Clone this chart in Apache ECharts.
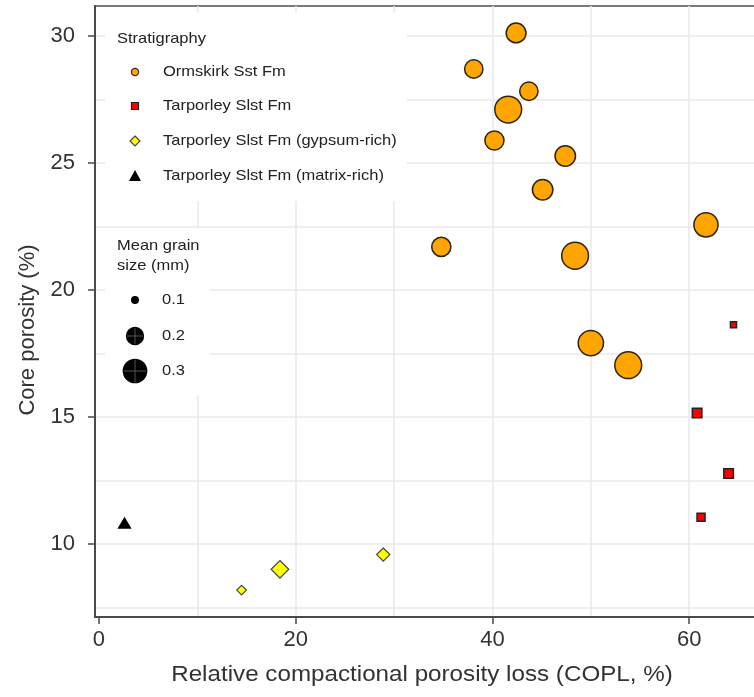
<!DOCTYPE html>
<html>
<head>
<meta charset="utf-8">
<script src="https://cdn.jsdelivr.net/npm/echarts@6/dist/echarts.min.js"></script>
<style>
  html, body { margin: 0; padding: 0; background: #ffffff; }
  #chart { width: 754px; height: 697px; }
</style>
</head>
<body>
<div id="chart"></div>
<script>
// Axis tick labels
const xTicks = [0, 20, 40, 60];
const yTicks = [10, 15, 20, 25, 30];
// Reference grid lines
const xGridValues = [10, 20, 30, 40, 50, 60];
const yGridValues = [7.5, 10, 12.5, 15, 17.5, 20, 22.5, 25, 27.5, 30];

// Ormskirk Sandstone Formation: COPL (%), core porosity (%), mean grain size (mm)
const ormskirkCopl     = [42.4, 38.1, 43.7, 41.6, 40.2, 47.4, 45.1, 34.8, 48.4, 61.7, 50.0, 53.8];
const ormskirkPorosity = [30.13, 28.71, 27.83, 27.11, 25.89, 25.28, 23.95, 21.70, 21.35, 22.57, 17.91, 17.04];
const ormskirkGrain    = [0.22, 0.20, 0.20, 0.34, 0.21, 0.23, 0.23, 0.21, 0.34, 0.29, 0.31, 0.34];

// Tarporley Siltstone Formation
const tarporleyCopl     = [64.5, 60.8, 64.0, 61.2];
const tarporleyPorosity = [18.63, 15.16, 12.77, 11.05];
const tarporleyGrain    = [0.09, 0.11, 0.11, 0.10];

// Tarporley Siltstone Formation, gypsum-rich
const gypsumCopl     = [14.5, 18.4, 28.9];
const gypsumPorosity = [8.18, 9.00, 9.58];
const gypsumGrain    = [0.11, 0.19, 0.14];

// Tarporley Siltstone Formation, matrix-rich
const matrixCopl     = [2.6];
const matrixPorosity = [10.83];
const matrixGrain    = [0.15];

// Grain-size key
const sizeKeyValues = [0.1, 0.2, 0.3];
const sizeKeyLabels = ['0.1', '0.2', '0.3'];

const FONT = '"Liberation Sans", Arial, Helvetica, sans-serif';
const X_MIN = -0.4, X_MAX = 67.6;
const Y_MIN = 7.12, Y_MAX = 31.19;
const TEXT_STRETCH = 1.1;

// symbol area grows linearly with grain size
function grainToSize(g) {
  return Math.sqrt(Math.max(4, 2730 * g - 209));
}

function zip(xs, ys, gs) {
  return xs.map((x, i) => [x, ys[i], gs[i]]);
}

const chart = echarts.init(document.getElementById('chart'), null, { renderer: 'canvas' });

const gridLine = { show: true, lineStyle: { color: '#e8e8e8', width: 1.5 } };

// Legend blocks
const legendX = 135, legendTextX = 163;
const stratItems = [
  { label: 'Ormskirk Sst Fm', y: 72 },
  { label: 'Tarporley Slst Fm', y: 106 },
  { label: 'Tarporley Slst Fm (gypsum-rich)', y: 141 },
  { label: 'Tarporley Slst Fm (matrix-rich)', y: 176 }
];
const txt = (text, x, y, size) => ({
  type: 'text', z: 12, x, y, scaleX: TEXT_STRETCH,
  style: { text, x: 0, y: 0, fill: '#222', font: size + 'px ' + FONT, verticalAlign: 'middle', align: 'left' }
});

const graphics = [];
graphics.push({ type: 'rect', z: 10, shape: { x: 105, y: 13, width: 302, height: 188 }, style: { fill: '#ffffff' } });
graphics.push(txt('Stratigraphy', 117, 39, 15));
stratItems.forEach(it => graphics.push(txt(it.label, legendTextX, it.y, 15)));
graphics.push({ type: 'circle', z: 12, shape: { cx: legendX, cy: stratItems[0].y, r: 3.6 },
  style: { fill: '#FFA500', stroke: '#3a2a10', lineWidth: 1.2 } });
graphics.push({ type: 'rect', z: 12, shape: { x: legendX - 3.5, y: stratItems[1].y - 3.5, width: 7, height: 7 },
  style: { fill: '#FF0000', stroke: '#222', lineWidth: 1.2 } });
graphics.push({ type: 'polygon', z: 12, shape: { points: [[legendX, stratItems[2].y - 5], [legendX + 5, stratItems[2].y], [legendX, stratItems[2].y + 5], [legendX - 5, stratItems[2].y]] },
  style: { fill: '#FFFF00', stroke: '#444', lineWidth: 1.2 } });
graphics.push({ type: 'polygon', z: 12, shape: { points: [[legendX, stratItems[3].y - 6], [legendX + 6, stratItems[3].y + 5], [legendX - 6, stratItems[3].y + 5]] },
  style: { fill: '#000000' } });

graphics.push({ type: 'rect', z: 10, shape: { x: 105, y: 229, width: 105, height: 166 }, style: { fill: '#ffffff' } });
graphics.push(txt('Mean grain', 117, 246, 15));
graphics.push(txt('size (mm)', 117, 266, 15));
const sizeKeyY = [300, 336, 371];
sizeKeyValues.forEach((g, i) => {
  const r = grainToSize(g) / 2;
  const cy = sizeKeyY[i];
  graphics.push({ type: 'circle', z: 12, shape: { cx: legendX, cy, r }, style: { fill: '#000000' } });
  if (i > 0) {
    graphics.push({ type: 'line', z: 13, shape: { x1: legendX - r + 1, y1: cy, x2: legendX + r - 1, y2: cy }, style: { stroke: '#555', lineWidth: 1 } });
    graphics.push({ type: 'line', z: 13, shape: { x1: legendX, y1: cy - r + 1, x2: legendX, y2: cy + r - 1 }, style: { stroke: '#555', lineWidth: 1 } });
  }
  graphics.push(txt(sizeKeyLabels[i], 162, cy, 15));
});

// Axis titles
graphics.push({ type: 'text', z: 12, x: 422, y: 675, scaleX: TEXT_STRETCH,
  style: { text: 'Relative compactional porosity loss (COPL, %)', x: 0, y: 0, fill: '#333', font: '22px ' + FONT, align: 'center', verticalAlign: 'middle' } });
graphics.push({ type: 'text', z: 12, x: 28, y: 330, rotation: Math.PI / 2,
  style: { text: 'Core porosity (%)', x: 0, y: 0, fill: '#333', font: '22px ' + FONT, align: 'center', verticalAlign: 'middle' } });

const option = {
  animation: false,
  backgroundColor: '#ffffff',
  grid: {
    left: 95, top: 6, width: 669, height: 611, outerBoundsMode: 'none', containLabel: false,
    show: true, borderColor: '#7a7a7a', borderWidth: 2, backgroundColor: '#ffffff'
  },
  xAxis: [
    {
      type: 'value', min: X_MIN, max: X_MAX, position: 'bottom',
      axisLine: { show: true, onZero: false, lineStyle: { color: '#4a4a4a', width: 2 } },
      axisTick: { show: true, length: 7, customValues: xTicks, lineStyle: { color: '#4a4a4a', width: 1.5 } },
      axisLabel: { customValues: xTicks, margin: 12, fontSize: 22, color: '#333', fontFamily: FONT },
      splitLine: { show: false }
    },
    {
      // grid lines only
      type: 'value', min: X_MIN, max: X_MAX, position: 'top',
      axisLine: { show: false },
      axisTick: { show: false, customValues: xGridValues },
      axisLabel: { show: false, customValues: xGridValues },
      splitLine: gridLine
    }
  ],
  yAxis: [
    {
      type: 'value', min: Y_MIN, max: Y_MAX, position: 'left',
      axisLine: { show: true, onZero: false, lineStyle: { color: '#4a4a4a', width: 2 } },
      axisTick: { show: true, length: 7, customValues: yTicks, lineStyle: { color: '#4a4a4a', width: 1.5 } },
      axisLabel: { customValues: yTicks, margin: 20, fontSize: 22, color: '#333', fontFamily: FONT },
      splitLine: { show: false }
    },
    {
      // grid lines only
      type: 'value', min: Y_MIN, max: Y_MAX, position: 'right',
      axisLine: { show: false },
      axisTick: { show: false, customValues: yGridValues },
      axisLabel: { show: false, customValues: yGridValues },
      splitLine: gridLine
    }
  ],
  graphic: graphics,
  series: [
    {
      name: 'Ormskirk Sst Fm', type: 'scatter', xAxisIndex: 0, yAxisIndex: 0,
      symbol: 'circle', symbolSize: v => grainToSize(v[2]),
      itemStyle: { color: '#FFA500', borderColor: '#2e2410', borderWidth: 1.5, opacity: 1 },
      data: zip(ormskirkCopl, ormskirkPorosity, ormskirkGrain), z: 3
    },
    {
      name: 'Tarporley Slst Fm', type: 'scatter', xAxisIndex: 0, yAxisIndex: 0,
      symbol: 'rect', symbolSize: v => grainToSize(v[2]),
      itemStyle: { color: '#FF0000', borderColor: '#222', borderWidth: 1.5, opacity: 1 },
      data: zip(tarporleyCopl, tarporleyPorosity, tarporleyGrain), z: 3
    },
    {
      name: 'Tarporley Slst Fm (gypsum-rich)', type: 'scatter', xAxisIndex: 0, yAxisIndex: 0,
      symbol: 'diamond', symbolSize: v => grainToSize(v[2]),
      itemStyle: { color: '#FFFF00', borderColor: '#444', borderWidth: 1.2, opacity: 1 },
      data: zip(gypsumCopl, gypsumPorosity, gypsumGrain), z: 3
    },
    {
      name: 'Tarporley Slst Fm (matrix-rich)', type: 'scatter', xAxisIndex: 0, yAxisIndex: 0,
      symbol: 'triangle', symbolSize: v => { const d = grainToSize(v[2]); return [d, d * 0.85]; },
      itemStyle: { color: '#000000', opacity: 1 },
      data: zip(matrixCopl, matrixPorosity, matrixGrain), z: 3
    }
  ]
};

chart.setOption(option);
</script>
</body>
</html>
